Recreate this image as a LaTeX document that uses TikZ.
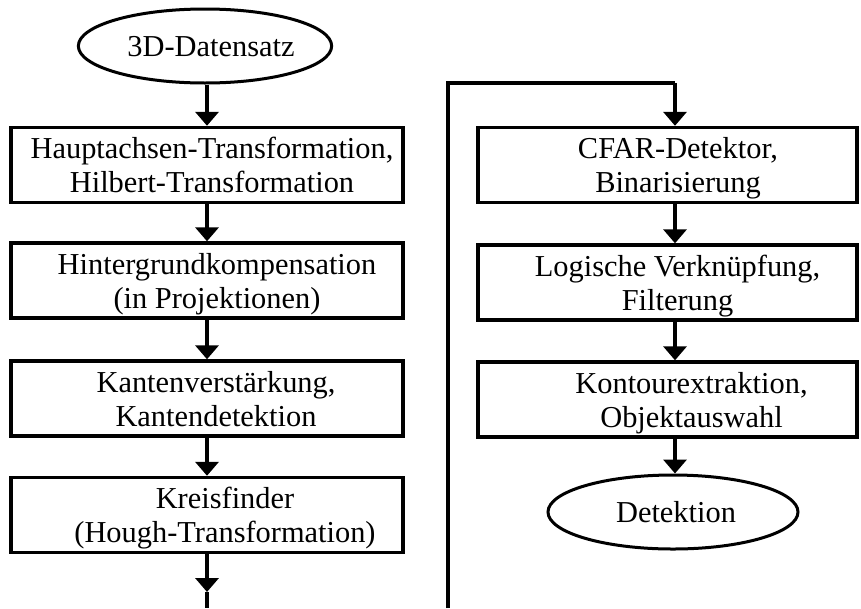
\documentclass[tikz,border=0pt]{standalone}
\usepackage{fontspec}
\setmainfont{Liberation Serif}
\usetikzlibrary{arrows.meta,shapes.geometric}
\newcommand\tx[2]{\hspace*{#1}\raisebox{-4pt}[\height][\depth]{\begin{tabular}{@{}c@{}}#2\end{tabular}}}
\begin{document}
\begin{tikzpicture}[x=1pt,y=-1pt,
  box/.style={draw,line width=3.4pt,minimum width=392pt,minimum height=75pt,inner sep=0pt,font=\fontsize{30.4}{34}\selectfont},
  rbox/.style={box,minimum width=379pt},
  term/.style={draw,ellipse,line width=3pt,minimum width=250pt,minimum height=74pt,inner sep=0pt,font=\fontsize{30.4}{34}\selectfont},
  flow/.style={line width=4.4pt,-{Triangle[width=23pt,length=14pt]}},
  wire/.style={line width=4pt}]
\useasboundingbox (0,0) rectangle (861,608);
% left column
\node[term] (start) at (205,46) {\tx{12pt}{3D-Datensatz}};
\node[box] (b1) at (207,165) {\tx{10pt}{Hauptachsen-Transformation,\\Hilbert-Transformation}};
\node[box] (b2) at (207,280.5) {\tx{20pt}{Hintergrundkompensation\\(in Projektionen)}};
\node[box] (b3) at (207,398.5) {\tx{18pt}{Kantenverstärkung,\\Kantendetektion}};
\node[box] (b4) at (207,515) {\tx{36pt}{Kreisfinder\\(Hough-Transformation)}};
\coordinate (lt) at (207,592);
\coordinate (lb) at (207,608);
\draw[flow] (start.south -| b1.north) -- (b1.north);
\draw[flow] (b1) -- (b2);
\draw[flow] (b2) -- (b3);
\draw[flow] (b3) -- (b4);
\draw[flow] (b4.south) -- (lt);
\draw[wire] (lt) -- (lb);
% right column
\node[rbox] (r1) at (667.5,165) {\tx{21pt}{CFAR-Detektor,\\Binarisierung}};
\node[rbox] (r2) at (667.5,282.5) {\tx{20pt}{Logische Verknüpfung,\\Filterung}};
\node[rbox] (r3) at (667.5,399.5) {\tx{48pt}{Kontourextraktion,\\Objektauswahl}};
\node[term] (stop) at (673,512) {\tx{6pt}{Detektion}};
\coordinate (rb) at (448,608);
\coordinate (rc) at (448,83);
\coordinate (rt) at (675,83);
\draw[wire] (rb) -- (rc) -- (rt);
\draw[flow] (rt) -- (rt |- r1.north);
\draw[flow] (r1.south -| rt) -- (r2.north -| rt);
\draw[flow] (r2.south -| rt) -- (r3.north -| rt);
\draw[flow] (r3.south -| rt) -- (stop.north -| rt);
\end{tikzpicture}
\end{document}
